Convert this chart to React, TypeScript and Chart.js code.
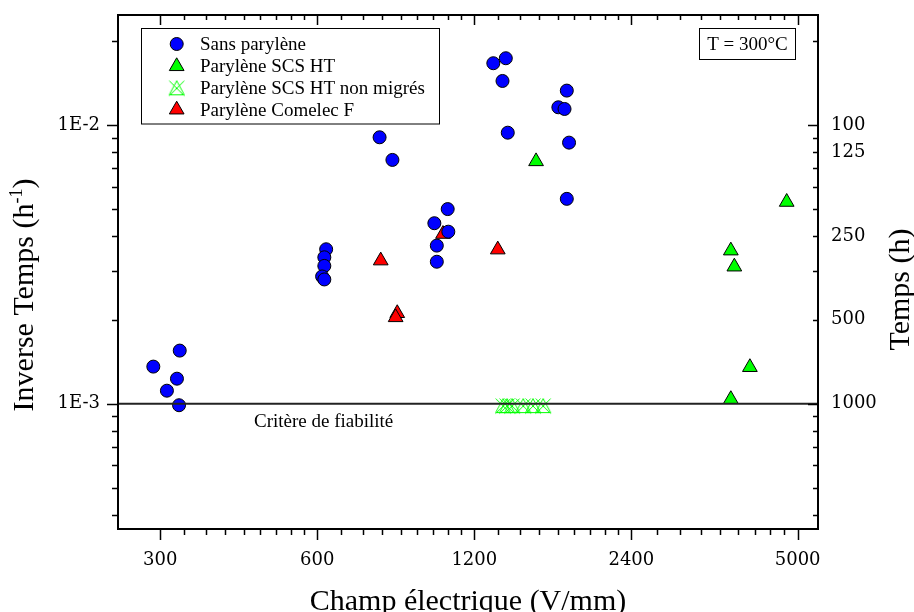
import React, { useEffect, useRef } from 'react';
import { Chart, registerables } from 'chart.js';

Chart.register(...registerables);

// ---- axis settings ----
const X_MIN = 249;
const X_MAX = 5470;
const Y_MIN = 3.55e-4;
const Y_MAX = 0.0248;
const xMajorTicks = [300, 600, 1200, 2400, 5000];
const yMajorTicks = [0.001, 0.01];
const yMajorLabels = ['1E-3', '1E-2'];
const rightTickValues = [0.01, 0.008, 0.004, 0.002, 0.001];
const rightTickLabels = ['100', '125', '250', '500', '1000'];
const criterionLevel = 0.001;

// ---- data ----
const sansX = [327, 291, 323, 309, 326, 624, 619, 619, 613, 619, 790, 836, 1067, 1006, 1070, 1017, 1017, 1305, 1379, 1359, 1805, 1739, 1787, 1391, 1823, 1805];
const sansY = [0.00155, 0.001358, 0.001229, 0.001113, 0.000987, 0.00358, 0.00335, 0.00312, 0.00286, 0.00279, 0.00903, 0.00749, 0.00499, 0.00444, 0.00414, 0.00369, 0.00323, 0.01665, 0.01735, 0.01438, 0.01328, 0.01157, 0.01141, 0.00938, 0.00864, 0.00543];

const scsX = [1576, 4764, 3723, 3781, 4050, 3723];
const scsY = [0.0074, 0.00529, 0.00354, 0.0031, 0.001351, 0.001037];

const nonMigX = [1363, 1387, 1418, 1489, 1555, 1626];
const nonMigY = [0.00098, 0.00098, 0.00098, 0.00098, 0.00098, 0.00098];

const comelecX = [794, 854, 848, 1045, 1331];
const comelecY = [0.00326, 0.00211, 0.00204, 0.00406, 0.00357];

const seriesLabels = ['Sans parylène', 'Parylène SCS HT', 'Parylène SCS HT non migrés', 'Parylène Comelec F'];

const toPts = (xs: number[], ys: number[]) => xs.map((x, i) => ({ x, y: ys[i] }));

const TICK_FONT = { family: 'DejaVu Serif', size: 18 };
const TEXT_FONT = '19px "Liberation Serif"';
const TITLE_FONT = '30px "Liberation Serif"';

function makeCrossTri(): HTMLCanvasElement {
  const c = document.createElement('canvas');
  c.width = 18;
  c.height = 18;
  const g = c.getContext('2d')!;
  g.strokeStyle = '#00ff00';
  g.lineWidth = 1;
  g.beginPath();
  g.moveTo(9, 1.5);
  g.lineTo(16.5, 15.5);
  g.lineTo(1.5, 15.5);
  g.closePath();
  g.stroke();
  g.beginPath();
  g.moveTo(1.5, 1.5);
  g.lineTo(16.5, 16.5);
  g.moveTo(16.5, 1.5);
  g.lineTo(1.5, 16.5);
  g.stroke();
  return c;
}

function drawMarker(ctx: CanvasRenderingContext2D, style: any, fill: string, x: number, y: number, r: number) {
  ctx.save();
  ctx.lineWidth = 1;
  ctx.strokeStyle = '#000';
  ctx.fillStyle = fill;
  if (style === 'circle') {
    ctx.beginPath();
    ctx.arc(x, y, r, 0, Math.PI * 2);
    ctx.fill();
    ctx.stroke();
  } else if (style === 'triangle') {
    const s = Math.sin(Math.PI * 2 / 3) * r;
    ctx.beginPath();
    ctx.moveTo(x, y - r);
    ctx.lineTo(x + s, y + r / 2);
    ctx.lineTo(x - s, y + r / 2);
    ctx.closePath();
    ctx.fill();
    ctx.stroke();
  } else if (style && style.width) {
    ctx.drawImage(style, x - style.width / 2, y - style.height / 2);
  }
  ctx.restore();
}

const noPad = (s: any) => {
  s.paddingTop = 0;
  s.paddingBottom = 0;
  s.paddingLeft = 0;
  s.paddingRight = 0;
};

const decorPlugin = {
  id: 'decor',
  afterDraw(chart: any) {
    const { ctx, chartArea: ca, scales } = chart;
    const xs = scales.x;
    const ys = scales.y;
    ctx.save();
    ctx.strokeStyle = '#000';
    ctx.fillStyle = '#000';

    // tick marks
    ctx.lineWidth = 1.5;
    const xMinor: number[] = [];
    for (let i = 0; i < xMajorTicks.length - 1; i++) {
      const a = xMajorTicks[i];
      const b = xMajorTicks[i + 1];
      for (let k = 1; k < 9; k++) xMinor.push(a + ((b - a) * k) / 9);
    }
    const yMinor: number[] = [];
    for (const d of [1e-4, 1e-3, 1e-2]) {
      for (let m = 2; m <= 9; m++) {
        const v = m * d;
        if (v > Y_MIN && v < Y_MAX) yMinor.push(v);
      }
    }
    ctx.beginPath();
    const xTick = (v: number, outLen: number, inLen: number) => {
      const p = Math.round(xs.getPixelForValue(v)) + 0.5;
      ctx.moveTo(p, ca.bottom);
      ctx.lineTo(p, ca.bottom + outLen);
      ctx.moveTo(p, ca.top);
      ctx.lineTo(p, ca.top + inLen);
    };
    const yTick = (v: number, outLen: number, inLen: number) => {
      const p = Math.round(ys.getPixelForValue(v)) + 0.5;
      ctx.moveTo(ca.left, p);
      ctx.lineTo(ca.left - outLen, p);
      ctx.moveTo(ca.right, p);
      ctx.lineTo(ca.right - inLen, p);
    };
    xMajorTicks.forEach((v) => xTick(v, 11, 10));
    xMinor.forEach((v) => xTick(v, 6, 5));
    yMajorTicks.forEach((v) => yTick(v, 11, 10));
    yMinor.forEach((v) => yTick(v, 6, 5));
    ctx.stroke();

    // frame
    ctx.lineWidth = 2;
    ctx.strokeRect(ca.left, ca.top, ca.right - ca.left, ca.bottom - ca.top);

    // axis titles
    ctx.font = TITLE_FONT;
    ctx.textBaseline = 'alphabetic';
    ctx.textAlign = 'center';
    ctx.fillText('Champ électrique (V/mm)', (ca.left + ca.right) / 2, 610);

    // left title with superscript
    ctx.save();
    ctx.translate(33, 295);
    ctx.rotate(-Math.PI / 2);
    ctx.textAlign = 'left';
    const p1 = 'Inverse Temps (h';
    const sup = '-1';
    const p3 = ')';
    ctx.font = TITLE_FONT;
    const w1 = ctx.measureText(p1).width;
    const w3 = ctx.measureText(p3).width;
    ctx.font = '18px "Liberation Serif"';
    const w2 = ctx.measureText(sup).width;
    const x0 = -(w1 + w2 + w3) / 2;
    ctx.font = TITLE_FONT;
    ctx.fillText(p1, x0, 0);
    ctx.fillText(p3, x0 + w1 + w2, 0);
    ctx.font = '18px "Liberation Serif"';
    ctx.fillText(sup, x0 + w1, -11);
    ctx.restore();

    // right title
    ctx.save();
    ctx.translate(909, 289.5);
    ctx.rotate(-Math.PI / 2);
    ctx.font = TITLE_FONT;
    ctx.textAlign = 'center';
    ctx.fillText('Temps (h)', 0, 0);
    ctx.restore();

    // criterion label
    ctx.font = TEXT_FONT;
    ctx.textAlign = 'left';
    ctx.fillText('Critère de fiabilité', 254, 427);

    // T box
    ctx.lineWidth = 1;
    ctx.strokeRect(699.5, 28.5, 96, 31);
    ctx.textAlign = 'center';
    ctx.fillText('T = 300°C', 747.5, 50);

    // legend
    ctx.strokeRect(141.5, 28.5, 298, 95.5);
    const rows = [44, 66.3, 88.3, 109.7];
    const dsIdx = [1, 2, 3, 4];
    ctx.textAlign = 'left';
    dsIdx.forEach((di, i) => {
      const ds = chart.data.datasets[di];
      drawMarker(ctx, ds.pointStyle, ds.backgroundColor, 176.7, rows[i], ds.pointRadius);
      ctx.fillStyle = '#000';
      ctx.font = TEXT_FONT;
      ctx.fillText(ds.label, 200, Math.round(rows[i]) + 6);
    });

    ctx.restore();
  },
};

export default function App() {
  const ref = useRef<HTMLCanvasElement | null>(null);

  useEffect(() => {
    if (!ref.current) return;
    const crossTri = makeCrossTri();
    const chart = new Chart(ref.current, {
      type: 'scatter',
      data: {
        datasets: [
          {
            label: 'criterion',
            data: [
              { x: X_MIN, y: criterionLevel },
              { x: X_MAX, y: criterionLevel },
            ],
            showLine: true,
            pointRadius: 0,
            borderColor: '#222',
            borderWidth: 2,
          } as any,
          {
            label: seriesLabels[0],
            data: toPts(sansX, sansY),
            pointStyle: 'circle',
            pointRadius: 6.5,
            backgroundColor: '#0000ff',
            borderColor: '#000',
            borderWidth: 1,
          },
          {
            label: seriesLabels[1],
            data: toPts(scsX, scsY),
            pointStyle: 'triangle',
            pointRadius: 8.5,
            backgroundColor: '#00ff00',
            borderColor: '#000',
            borderWidth: 1,
          },
          {
            label: seriesLabels[2],
            data: toPts(nonMigX, nonMigY),
            pointStyle: crossTri,
            pointRadius: 8,
            backgroundColor: '#00ff00',
            borderColor: '#00ff00',
            borderWidth: 1,
          },
          {
            label: seriesLabels[3],
            data: toPts(comelecX, comelecY),
            pointStyle: 'triangle',
            pointRadius: 8.5,
            backgroundColor: '#ff0000',
            borderColor: '#000',
            borderWidth: 1,
          },
        ],
      },
      options: {
        responsive: false,
        animation: false,
        events: [],
        layout: { padding: { top: 15, left: 0, right: 0, bottom: 0 } },
        plugins: { legend: { display: false }, tooltip: { enabled: false } },
        scales: {
          x: {
            type: 'logarithmic',
            position: 'bottom',
            min: X_MIN,
            max: X_MAX,
            bounds: 'data',
            grid: { display: false, drawTicks: false },
            border: { display: false },
            afterBuildTicks: (s: any) => {
              s.ticks = xMajorTicks.map((v) => ({ value: v }));
            },
            afterFit: (s: any) => {
              s.height = 612 - 529;
              noPad(s);
            },
            ticks: {
              autoSkip: false,
              maxRotation: 0,
              padding: 21,
              color: '#000',
              font: TICK_FONT,
              callback: (v: any) => String(v),
            },
          },
          y: {
            type: 'logarithmic',
            position: 'left',
            min: Y_MIN,
            max: Y_MAX,
            bounds: 'data',
            grid: { display: false, drawTicks: false },
            border: { display: false },
            afterBuildTicks: (s: any) => {
              s.ticks = yMajorTicks.map((v) => ({ value: v }));
            },
            afterFit: (s: any) => {
              s.width = 118;
              noPad(s);
            },
            ticks: {
              autoSkip: false,
              padding: 18,
              color: '#000',
              font: TICK_FONT,
              callback: (v: any) => {
                const i = yMajorTicks.findIndex((t) => Math.abs(t - v) / t < 1e-6);
                return i >= 0 ? yMajorLabels[i] : '';
              },
            },
          },
          y2: {
            type: 'logarithmic',
            position: 'right',
            min: Y_MIN,
            max: Y_MAX,
            bounds: 'data',
            grid: { display: false, drawTicks: false },
            border: { display: false },
            afterBuildTicks: (s: any) => {
              s.ticks = rightTickValues.map((v) => ({ value: v }));
            },
            afterFit: (s: any) => {
              s.width = 914 - 818;
              noPad(s);
            },
            ticks: {
              autoSkip: false,
              padding: 13,
              color: '#000',
              font: TICK_FONT,
              callback: (v: any) => {
                const i = rightTickValues.findIndex((t) => Math.abs(t - v) / t < 1e-6);
                return i >= 0 ? rightTickLabels[i] : '';
              },
            },
          },
        },
      } as any,
      plugins: [decorPlugin],
    });
    return () => chart.destroy();
  }, []);

  return (
    <div style={{ position: 'fixed', left: 0, top: 0, width: 914, height: 612, background: '#fff' }}>
      <canvas ref={ref} width={914} height={612} style={{ display: 'block', width: 914, height: 612 }} />
    </div>
  );
}
